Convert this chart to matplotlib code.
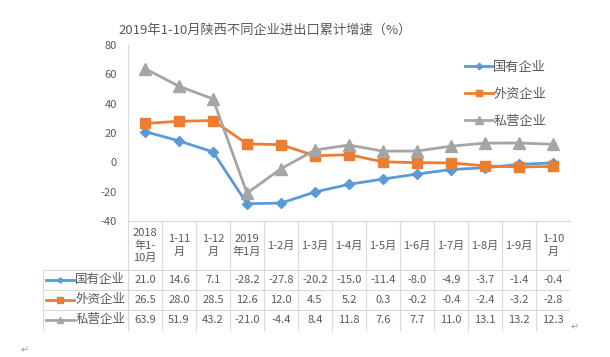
import matplotlib.pyplot as plt
from matplotlib.lines import Line2D

plt.rcParams['font.family'] = ['Noto Sans CJK SC', 'DejaVu Sans']

# data
periods = ["2018\n年1-\n10月", "1-11\n月", "1-12\n月", "2019\n年1月", "1-2月", "1-3月",
           "1-4月", "1-5月", "1-6月", "1-7月", "1-8月", "1-9月", "1-10\n月"]
series_names = ["国有企业", "外资企业", "私营企业"]
state_owned = [21.0, 14.6, 7.1, -28.2, -27.8, -20.2, -15.0, -11.4, -8.0, -4.9, -3.7, -1.4, -0.4]
foreign = [26.5, 28.0, 28.5, 12.6, 12.0, 4.5, 5.2, 0.3, -0.2, -0.4, -2.4, -3.2, -2.8]
private = [63.9, 51.9, 43.2, -21.0, -4.4, 8.4, 11.8, 7.6, 7.7, 11.0, 13.1, 13.2, 12.3]
yticks = [-40, -20, 0, 20, 40, 60, 80]

colors = ["#5B9BD5", "#ED7D31", "#A5A5A5"]
markers = ["D", "s", "^"]
msizes = [5, 7, 8]
txt = "#595959"
grid = "#d9d9d9"
W, H = 610, 357

fig = plt.figure(figsize=(W / 100, H / 100), dpi=100)

# main plot area
ax = fig.add_axes([128 / W, 1 - 221 / H, (570 - 128) / W, (221 - 45) / H])
x = list(range(len(periods)))
all_series = [state_owned, foreign, private]
for vals, c, m, s, name in zip(all_series, colors, markers, msizes, series_names):
    ax.plot(x, vals, color=c, lw=2, marker=m, ms=s, label=name, clip_on=False)
ax.set_xlim(-0.5, len(periods) - 0.5)
ax.set_ylim(-40, 80)
ax.set_yticks(yticks)
ax.set_yticklabels([str(v) for v in yticks], fontsize=8, color=txt)
ax.tick_params(axis='y', length=0, pad=8)
ax.set_xticks([])
for sp in ["top", "right"]:
    ax.spines[sp].set_visible(False)
for sp in ["left", "bottom"]:
    ax.spines[sp].set_color(grid)

ax.legend(loc="upper left", bbox_to_anchor=(453 / W, 1 - 49 / H),
          bbox_transform=fig.transFigure, frameon=False, fontsize=9.5,
          handlelength=2.1, labelspacing=1.05, handletextpad=0.05,
          markerscale=0.65, labelcolor=txt)

fig.text(265 / W, 1 - 30 / H, "2019年1-10月陕西不同企业进出口累计增速（%）",
         ha="center", va="center", fontsize=9.5, color=txt)

# data table below
tb = fig.add_axes([43 / W, 1 - 332 / H, (570 - 43) / W, (332 - 221) / H])
tb.set_xlim(-3, len(periods) - 0.5)
tb.set_ylim(332, 221)
tb.axis("off")

for k in range(len(periods) + 1):
    tb.plot([k - 0.5, k - 0.5], [221, 330], color=grid, lw=0.8)
for yy in [270, 290, 310]:
    tb.plot([-3, len(periods) - 0.5], [yy, yy], color=grid, lw=0.8)
tb.plot([-3, -3], [270, 330], color=grid, lw=0.8)

for i, lab in enumerate(periods):
    tb.text(i, 245.5, lab, ha="center", va="center", fontsize=8, color=txt,
            linespacing=1.25)

row_y = [280, 300, 320]
for vals, c, m, s, name, yy in zip(all_series, colors, markers, msizes, series_names, row_y):
    tb.add_line(Line2D([-2.92, -2.1], [yy, yy], color=c, lw=2))
    tb.add_line(Line2D([-2.5], [yy], color=c, marker=m, ms=s * 0.55))
    tb.text(-0.58, yy, name, ha="right", va="center", fontsize=9, color=txt)
    for i, v in enumerate(vals):
        tb.text(i, yy, f"{v:.1f}", ha="center", va="center", fontsize=8, color=txt)

fig.text(575 / W, 1 - 327 / H, "↵", fontsize=7, color="#999999", ha="center", va="center")
fig.text(25 / W, 1 - 350 / H, "↵", fontsize=7, color="#999999", ha="center", va="center")

fig.savefig("out.png", dpi=100)
